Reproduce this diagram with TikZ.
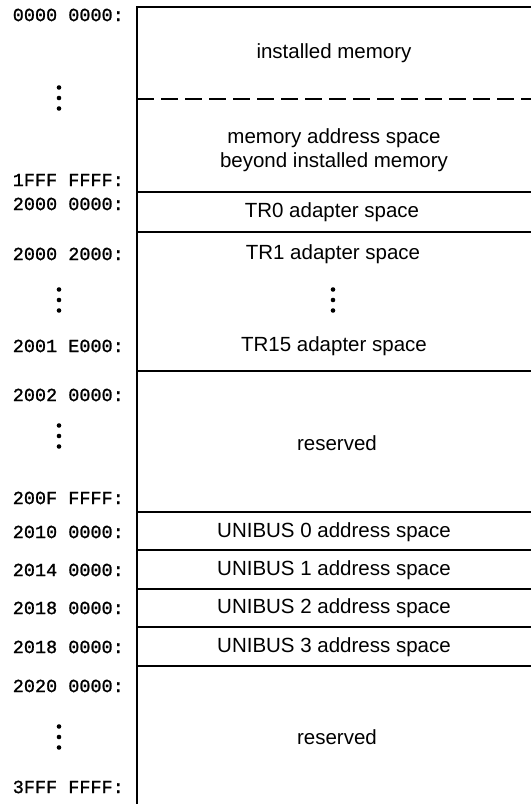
\documentclass[tikz,border=0pt]{standalone}
\usepackage{fontspec}
\setmainfont{Liberation Sans}
\newfontfamily\addrfont[FakeBold=1.2]{Liberation Mono}
\begin{document}
\begin{tikzpicture}[x=1pt,y=-1pt,
  addr/.style={anchor=east,inner sep=0pt,font=\addrfont\fontsize{18.5}{20}\selectfont},
  region/.style={inner sep=0pt,align=center,font=\fontsize{20.5}{24}\selectfont},
  rule/.style={line width=2pt},
  vdots/.pic={\foreach \dy in {-10.5,0,10.5} \fill (0,\dy) circle (2.3pt);}]
\useasboundingbox (0,0) rectangle (531,804);
% frame
\draw[rule] (137,804) -- (137,7) -- (531,7);
\draw[line width=1.6pt,dash pattern=on 17pt off 7pt] (137,99) -- (531,99);
\foreach \y in {192,232,371,512,550,589,627,666}
  \draw[rule] (137,\y) -- (531,\y);
% region texts
\node[region] (inst) at (334,53) {installed memory};
\node[region] (beyond) at (334,150) {memory address space\\beyond installed memory};
\node[region] (tr0) at (332,212) {TR0 adapter space};
\node[region] (tr1) at (333,254) {TR1 adapter space};
\pic at (333,300) {vdots};
\node[region] (tr15) at (334,346) {TR15 adapter space};
\node[region] (res1) at (337,443) {reserved};
\node[region] (ub0) at (334,532) {UNIBUS 0 address space};
\node[region] (ub1) at (334,570) {UNIBUS 1 address space};
\node[region] (ub2) at (334,608) {UNIBUS 2 address space};
\node[region] (ub3) at (334,647) {UNIBUS 3 address space};
\node[region] (res2) at (337,737) {reserved};
% addresses
\node[addr] (a0) at (124,15) {0000 0000:};
\pic at (59,98) {vdots};
\node[addr] (a1) at (124,180) {1FFF FFFF:};
\node[addr] (a2) at (124,204) {2000 0000:};
\node[addr] (a3) at (124,254) {2000 2000:};
\pic at (59,300) {vdots};
\node[addr] (a4) at (124,346) {2001 E000:};
\node[addr] (a5) at (124,395) {2002 0000:};
\pic at (59,436) {vdots};
\node[addr] (a6) at (124,498) {200F FFFF:};
\node[addr] (a7) at (124,532) {2010 0000:};
\node[addr] (a8) at (124,570) {2014 0000:};
\node[addr] (a9) at (124,608) {2018 0000:};
\node[addr] (a10) at (124,647) {2018 0000:};
\node[addr] (a11) at (124,686) {2020 0000:};
\pic at (59,737) {vdots};
\node[addr] (a12) at (124,787) {3FFF FFFF:};
\end{tikzpicture}
\end{document}
